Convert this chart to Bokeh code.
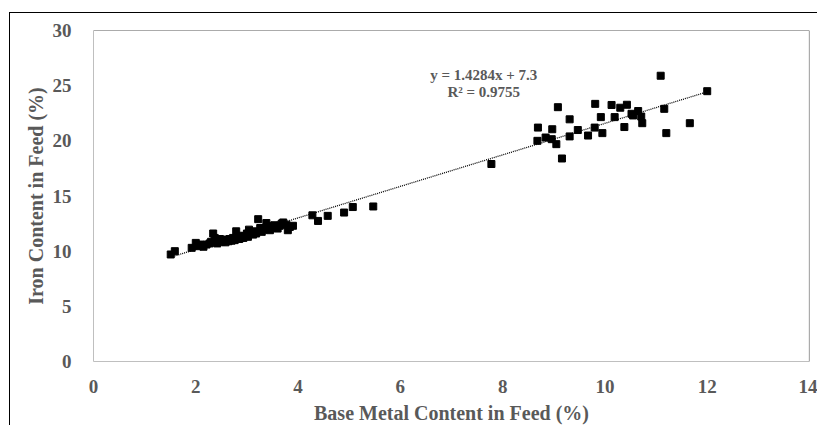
from bokeh.plotting import figure
from bokeh.models import Span, Range1d, Label, FixedTicker
from bokeh.embed import file_html
from bokeh.resources import INLINE

# Base metal content in feed (%) and iron content in feed (%)
base_metal = [1.51, 1.59, 1.92, 2.0, 2.05, 2.08, 2.15, 2.21, 2.27, 2.3, 2.34, 2.37, 2.4, 2.42,
              2.47, 2.5, 2.53, 2.58, 2.6, 2.64, 2.66, 2.7, 2.73, 2.76, 2.79, 2.82, 2.85, 2.88,
              2.9, 2.93, 2.96, 3.0, 3.02, 3.04, 3.08, 3.12, 3.15, 3.18, 3.22, 3.26, 3.29, 3.32,
              3.38, 3.42, 3.45, 3.48, 3.54, 3.6, 3.64, 3.68, 3.71, 3.77, 3.8, 3.84, 3.9,
              4.28, 4.39, 4.58, 4.9, 5.07, 5.47, 7.78,
              8.68, 8.69, 8.84, 8.96, 8.97, 9.05, 9.08, 9.16, 9.31, 9.31, 9.47, 9.67, 9.8,
              9.81, 9.92, 9.95, 10.13, 10.19, 10.3, 10.38, 10.43, 10.52, 10.55, 10.65, 10.71,
              10.73, 11.09, 11.16, 11.2, 11.66, 12.0]
iron = [9.7, 10.0, 10.3, 10.75, 10.45, 10.6, 10.4, 10.6, 10.7, 10.85, 11.6, 11.2, 11.0, 10.7,
        11.1, 10.85, 10.9, 10.8, 11.05, 10.9, 11.1, 10.95, 11.2, 11.0, 11.8, 11.3, 11.1, 11.2,
        11.4, 11.2, 11.35, 11.6, 11.3, 11.95, 11.6, 11.5, 11.8, 11.6, 12.9, 12.1, 11.75, 11.95,
        12.55, 12.3, 11.9, 12.1, 12.35, 12.05, 12.3, 12.5, 12.6, 12.4, 11.9, 12.2, 12.3,
        13.25, 12.74, 13.2, 13.5, 14.0, 14.05, 17.9,
        20.0, 21.2, 20.3, 20.15, 21.05, 19.7, 23.05, 18.4, 21.95, 20.4, 20.98, 20.48, 21.2,
        23.35, 22.15, 20.7, 23.25, 22.15, 23.0, 21.25, 23.27, 22.45, 22.3, 22.7, 22.2,
        21.6, 25.9, 22.9, 20.7, 21.6, 24.5]

slope = 1.4284
intercept = 7.3
eq_text = "y = 1.4284x + 7.3"
r2_text = "R\u00b2 = 0.9755"
x_ticks = [0, 2, 4, 6, 8, 10, 12, 14]
y_ticks = [0, 5, 10, 15, 20, 25, 30]
x_title = "Base Metal Content in Feed (%)"
y_title = "Iron Content in Feed (%)"

FONT = "Liberation Serif"
GRAY = "#595959"

p = figure(width=808, height=413, x_range=Range1d(0, 14), y_range=Range1d(0, 30),
           output_backend="svg", toolbar_location=None,
           min_border_left=83, min_border_right=9, min_border_top=17, min_border_bottom=64)
p.margin = (12, 0, 0, 9)
p.styles = {"border-left": "1.5px solid black", "border-top": "1.5px solid black"}
p.outline_line_color = None
p.background_fill_color = "white"
p.border_fill_color = "white"
p.xgrid.grid_line_color = None
p.ygrid.grid_line_color = None

for ax in (p.xaxis[0], p.yaxis[0]):
    ax.axis_line_color = "#bfbfbf"
    ax.axis_line_width = 1
    ax.major_tick_line_color = None
    ax.minor_tick_line_color = None
    ax.major_label_text_font = FONT
    ax.major_label_text_font_style = "bold"
    ax.major_label_text_font_size = "19px"
    ax.major_label_text_color = GRAY
    ax.axis_label_text_font = FONT
    ax.axis_label_text_font_style = "bold"
    ax.axis_label_text_font_size = "20px"
    ax.axis_label_text_color = GRAY

p.xaxis.ticker = FixedTicker(ticks=x_ticks)
p.yaxis.ticker = FixedTicker(ticks=y_ticks)
p.xaxis.axis_label = x_title
p.yaxis.axis_label = y_title
p.xaxis.major_label_standoff = 12
p.yaxis.major_label_standoff = 16
p.xaxis.axis_label_standoff = 6
p.yaxis.axis_label_standoff = 3

p.add_layout(Span(location=30, dimension="width", line_color=GRAY, line_width=1.2))
p.add_layout(Span(location=14, dimension="height", line_color=GRAY, line_width=1.2))

x0, x1 = min(base_metal), max(base_metal)
p.line([x0, x1], [slope * x0 + intercept, slope * x1 + intercept],
       line_color="black", line_width=1.3, line_dash="1 1")

p.scatter(base_metal, iron, marker="square", size=7, color="black")

p.add_layout(Label(x=7.63, y=26.0, text=eq_text, text_align="center", text_baseline="middle",
                   text_font=FONT, text_font_style="bold", text_font_size="15px", text_color=GRAY))
p.add_layout(Label(x=7.63, y=24.4, text=r2_text, text_align="center", text_baseline="middle",
                   text_font=FONT, text_font_style="bold", text_font_size="15px", text_color=GRAY))

open("out.html", "w").write(file_html(p, INLINE))
